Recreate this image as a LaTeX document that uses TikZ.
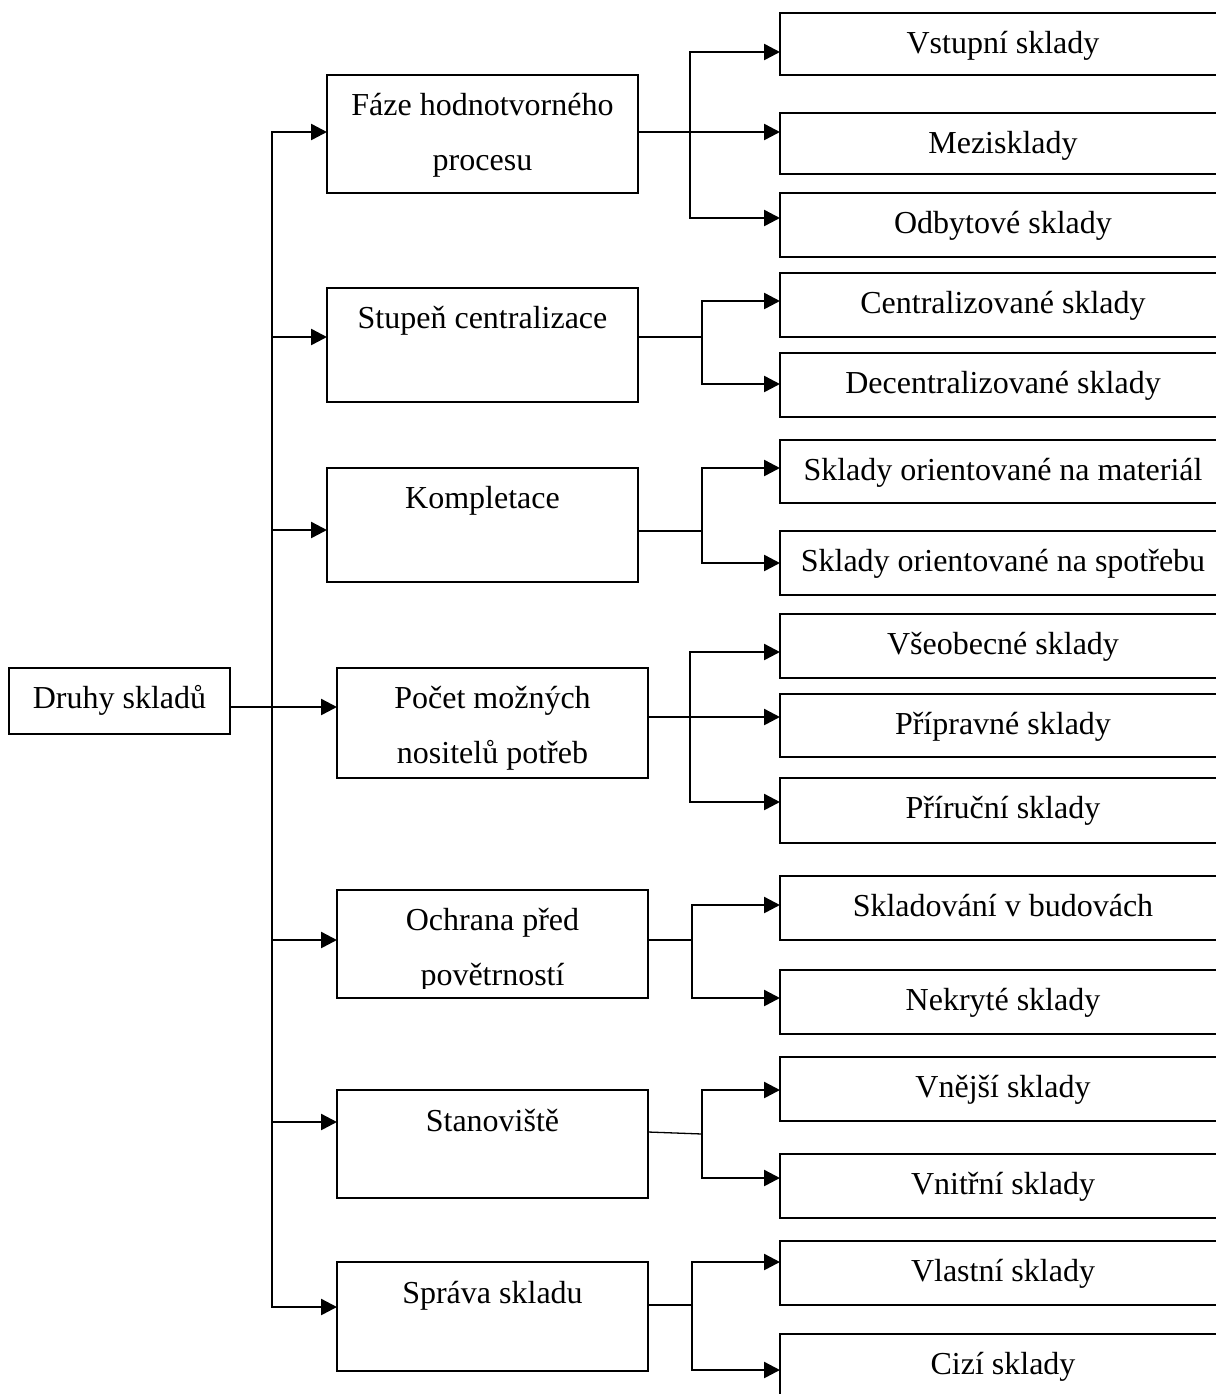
\documentclass[tikz,border=0pt]{standalone}
\usepackage{fontspec}
\setmainfont{Liberation Serif}
\usetikzlibrary{arrows.meta}

% a framed box given by its top-left corner and its size (all in px units)
\newcommand\mkbox[5]{\node[box, minimum width=#4*0.5pt, minimum height=#5*0.5pt] (#1) at (#2,#3) {};}

\begin{document}
\begin{tikzpicture}[x=0.5pt,y=-0.5pt,
  box/.style={draw, line width=1pt, rectangle, anchor=north west, inner sep=0pt, outer sep=0pt},
  txt/.style={anchor=base, inner sep=0pt, font=\fontsize{16pt}{19pt}\selectfont},
  thinline/.style={line width=0.65pt},
  tip/.tip={Triangle[length=8pt,width=8pt]},
  arr/.style={line width=1.25pt, -tip},
  arrtwo/.style={line width=1.25pt, tip-tip, line join=miter}]

\useasboundingbox (0,0) rectangle (1216,1394);

% ---- root ----
\mkbox{root}{9}{668}{221}{66}
\node[txt] (rootT) at (119.5,708) {Druhy skladů};

% ---- criteria ----
\mkbox{faze}{327}{75}{311}{118}
\node[txt] (fazeA) at (482.5,115) {Fáze hodnotvorného};
\node[txt] (fazeB) at (482.5,170) {procesu};

\mkbox{stup}{327}{288}{311}{114}
\node[txt] (stupT) at (482.5,328) {Stupeň centralizace};

\mkbox{komp}{327}{468}{311}{114}
\node[txt] (kompT) at (482.5,508) {Kompletace};

\mkbox{pocet}{337}{668}{311}{110}
\node[txt] (pocetA) at (492.5,708) {Počet možných};
\node[txt] (pocetB) at (492.5,763) {nositelů potřeb};

\mkbox{ochr}{337}{890}{311}{108}
\node[txt] (ochrA) at (492.5,930) {Ochrana před};
\begin{scope}
  \clip (337,890) rectangle (648,988);
  \node[txt] (ochrB) at (492.5,985) {povětrností};
\end{scope}

\mkbox{stan}{337}{1090}{311}{108}
\node[txt] (stanT) at (492.5,1131) {Stanoviště};

\mkbox{sprava}{337}{1262}{311}{109}
\node[txt] (spravaT) at (492.5,1303) {Správa skladu};

% ---- kinds ----
\mkbox{vstup}{780}{13}{446}{62}
\node[txt] (vstupT) at (1003,53) {Vstupní sklady};
\mkbox{mezi}{780}{113}{446}{61}
\node[txt] (meziT) at (1003,153) {Mezisklady};
\mkbox{odbyt}{780}{193}{446}{64}
\node[txt] (odbytT) at (1003,233) {Odbytové sklady};

\mkbox{centr}{780}{273}{446}{64}
\node[txt] (centrT) at (1003,313) {Centralizované sklady};
\mkbox{decentr}{780}{353}{446}{64}
\node[txt] (decentrT) at (1003,393) {Decentralizované sklady};

\mkbox{mat}{780}{440}{446}{63}
\node[txt] (matT) at (1003,480) {Sklady orientované na materiál};
\mkbox{spot}{780}{531}{446}{64}
\node[txt] (spotT) at (1003,571) {Sklady orientované na spotřebu};

\mkbox{vseob}{780}{614}{446}{64}
\node[txt] (vseobT) at (1003,654) {Všeobecné sklady};
\mkbox{prip}{780}{694}{446}{63}
\node[txt] (pripT) at (1003,734) {Přípravné sklady};
\mkbox{prir}{780}{778}{446}{65}
\node[txt] (prirT) at (1003,818) {Příruční sklady};

\mkbox{budov}{780}{876}{446}{64}
\node[txt] (budovT) at (1003,916) {Skladování v budovách};
\mkbox{nekr}{780}{970}{446}{64}
\node[txt] (nekrT) at (1003,1010) {Nekryté sklady};

\mkbox{vnej}{780}{1057}{446}{64}
\node[txt] (vnejT) at (1003,1097) {Vnější sklady};
\mkbox{vnit}{780}{1154}{446}{64}
\node[txt] (vnitT) at (1003,1194) {Vnitřní sklady};

\mkbox{vlast}{780}{1241}{446}{64}
\node[txt] (vlastT) at (1003,1281) {Vlastní sklady};
\mkbox{cizi}{780}{1334}{446}{64}
\node[txt] (ciziT) at (1003,1374) {Cizí sklady};

% ---- trunk from the root ----
\coordinate (t1) at (272,132);
\coordinate (t2) at (272,337);
\coordinate (t3) at (272,530);
\coordinate (t4) at (272,707);
\coordinate (t5) at (272,940);
\coordinate (t6) at (272,1122);
\coordinate (t7) at (272,1307);
\draw[thinline] (root.east |- t4) -- (t4);
\draw[arrtwo] (faze.west |- t1) -- (t1) -- (t7) -- (sprava.west |- t7);
\draw[arr] (t2) -- (stup.west |- t2);
\draw[arr] (t3) -- (komp.west |- t3);
\draw[arr] (t4) -- (pocet.west |- t4);
\draw[arr] (t5) -- (ochr.west |- t5);
\draw[arr] (t6) -- (stan.west |- t6);

% ---- branches to the kinds ----
% Fáze hodnotvorného procesu
\coordinate (a1) at (690,52);
\coordinate (a2) at (690,132);
\coordinate (a3) at (690,218);
\draw[thinline] (faze.east |- a2) -- (a2);
\draw[arrtwo] (vstup.west |- a1) -- (a1) -- (a3) -- (odbyt.west |- a3);
\draw[arr] (a2) -- (mezi.west |- a2);

% Stupeň centralizace
\coordinate (b0) at (702,337);
\coordinate (b1) at (702,301);
\coordinate (b2) at (702,384);
\draw[thinline] (stup.east |- b0) -- (b0);
\draw[arrtwo] (centr.west |- b1) -- (b1) -- (b2) -- (decentr.west |- b2);

% Kompletace
\coordinate (c0) at (702,531);
\coordinate (c1) at (702,468);
\coordinate (c2) at (702,563);
\draw[thinline] (komp.east |- c0) -- (c0);
\draw[arrtwo] (mat.west |- c1) -- (c1) -- (c2) -- (spot.west |- c2);

% Počet možných nositelů potřeb
\coordinate (d1) at (690,652);
\coordinate (d2) at (690,717);
\coordinate (d3) at (690,802);
\draw[thinline] (pocet.east |- d2) -- (d2);
\draw[arrtwo] (vseob.west |- d1) -- (d1) -- (d3) -- (prir.west |- d3);
\draw[arr] (d2) -- (prip.west |- d2);

% Ochrana před povětrností
\coordinate (e0) at (692,940);
\coordinate (e1) at (692,905);
\coordinate (e2) at (692,998);
\draw[thinline] (ochr.east |- e0) -- (e0);
\draw[arrtwo] (budov.west |- e1) -- (e1) -- (e2) -- (nekr.west |- e2);

% Stanoviště: its outgoing line rises slightly towards the branch
\coordinate (fs) at (648,1132);
\coordinate (f0) at (702,1134);
\coordinate (f1) at (702,1090);
\coordinate (f2) at (702,1178);
\draw[thinline] (stan.east |- fs) -- (f0);
\draw[arrtwo] (vnej.west |- f1) -- (f1) -- (f2) -- (vnit.west |- f2);

% Správa skladu
\coordinate (g0) at (692,1305);
\coordinate (g1) at (692,1262);
\coordinate (g2) at (692,1370);
\draw[thinline] (sprava.east |- g0) -- (g0);
\draw[arrtwo] (vlast.west |- g1) -- (g1) -- (g2) -- (cizi.west |- g2);

\end{tikzpicture}
\end{document}
